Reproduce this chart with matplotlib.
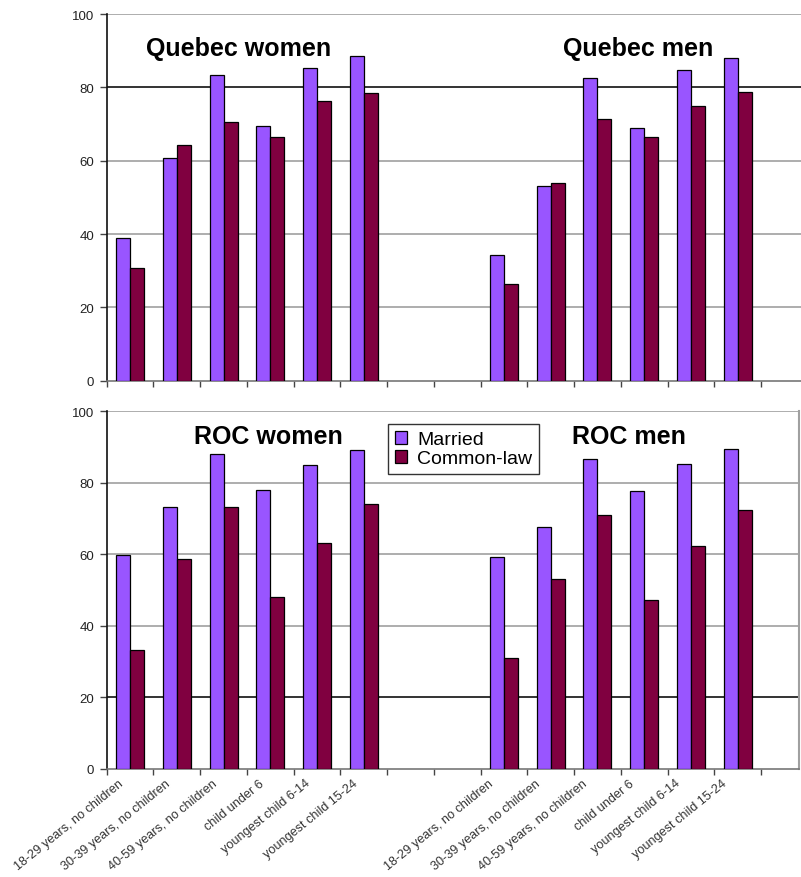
import matplotlib
matplotlib.use("Agg")
import matplotlib.pyplot as plt
import matplotlib.transforms as mtransforms
import numpy as np

plt.rcParams['font.family'] = ['Liberation Sans', 'DejaVu Sans']

categories = ["18-29 years, no children", "30-39 years, no children",
              "40-59 years, no children", "child under 6",
              "youngest child 6-14", "youngest child 15-24"]

qc_women_married = [39.0, 60.6, 83.4, 69.5, 85.2, 88.5]
qc_women_common = [30.8, 64.3, 70.5, 66.4, 76.4, 78.5]
qc_men_married = [34.4, 53.2, 82.6, 68.8, 84.8, 88.0]
qc_men_common = [26.4, 53.9, 71.4, 66.4, 75.0, 78.8]

roc_women_married = [59.8, 73.2, 88.1, 77.9, 84.9, 89.2]
roc_women_common = [33.2, 58.8, 73.2, 48.2, 63.1, 74.1]
roc_men_married = [59.4, 67.7, 86.7, 77.6, 85.3, 89.6]
roc_men_common = [30.9, 53.1, 71.0, 47.3, 62.3, 72.5]

yticks = [0, 20, 40, 60, 80, 100]
married_color = "#9955FF"
common_color = "#800040"

W, H = 801, 878
fig = plt.figure(figsize=(W / 100, H / 100), dpi=100)

def px_axes(left, top, right, bottom):
    return fig.add_axes([left / W, 1 - bottom / H, (right - left) / W, (bottom - top) / H])

ax_top = px_axes(106.7, 15.0, 801, 381.7)
ax_bot = px_axes(106.7, 412.3, 798.5, 770.0)

n_blank = 2
women_x = np.arange(6)
men_x = np.arange(6) + 6 + n_blank
all_x = np.concatenate([women_x, men_x])
labels = categories + categories
bw = 0.3
step = 46.74

def draw(ax, wm, wc, mm, mc, title_w, title_m, dark_grid, xmax):
    ax.set_axisbelow(True)
    married = list(wm) + list(mm)
    common = list(wc) + list(mc)
    ax.bar(all_x - bw / 2, married, width=bw, color=married_color,
           edgecolor="black", linewidth=0.9, label="Married", zorder=3)
    ax.bar(all_x + bw / 2, common, width=bw, color=common_color,
           edgecolor="black", linewidth=0.9, label="Common-law", zorder=3)
    ax.set_ylim(0, 100)
    ax.set_xlim(-0.5, xmax)
    ax.set_yticks(yticks)
    ax.set_yticklabels([str(v) for v in yticks], fontsize=9.5, color="#222222")
    for v in yticks[1:]:
        c = "#111111" if v == dark_grid else "#a0a0a0"
        ax.axhline(v, color=c, linewidth=1.2, zorder=1)
    ax.set_xticks(np.arange(-0.5, 14.0, 1.0), minor=True)
    ax.tick_params(axis="x", which="minor", length=4, width=1, color="#444444")
    ax.tick_params(axis="x", which="major", length=0)
    ax.tick_params(axis="y", length=5, width=1, color="#444444", pad=4)
    for s in ["top", "right"]:
        ax.spines[s].set_visible(False)
    ax.spines["left"].set_color("#111111")
    ax.spines["left"].set_linewidth(1.2)
    ax.spines["bottom"].set_color("#777777")
    ax.spines["bottom"].set_linewidth(1.2)
    ax.text(title_w[0], title_w[1], title_w[2], fontsize=18, fontweight="bold",
            ha="center", va="center", zorder=5)
    ax.text(title_m[0], title_m[1], title_m[2], fontsize=18, fontweight="bold",
            ha="center", va="center", zorder=5)

top_xmax = -0.5 + (801 - 106.7) / step
bot_xmax = -0.5 + (798.5 - 106.7) / step

draw(ax_top, qc_women_married, qc_women_common, qc_men_married, qc_men_common,
     (2.33, 90.7, "Quebec women"), (10.87, 90.7, "Quebec men"), 80, top_xmax)
ax_top.set_xticks(all_x)
ax_top.set_xticklabels([])

draw(ax_bot, roc_women_married, roc_women_common, roc_men_married, roc_men_common,
     (2.95, 93.0, "ROC women"), (10.67, 93.0, "ROC men"), 20, bot_xmax)
ax_bot.spines["right"].set_visible(True)
ax_bot.spines["right"].set_color("#a0a0a0")
ax_bot.spines["right"].set_linewidth(1.5)
ax_bot.set_xticks(all_x)
ax_bot.set_xticklabels(labels, rotation=39, ha="right", va="center",
                       rotation_mode="anchor", fontsize=9.1, color="#333333")
ax_bot.tick_params(axis="x", which="major", pad=9)
for i, lab in enumerate(ax_bot.get_xticklabels()):
    dx = -8 if i < 6 else -12
    offset = mtransforms.ScaledTranslation(dx / 100, 0, fig.dpi_scale_trans)
    lab.set_transform(lab.get_transform() + offset)

leg = ax_bot.legend(loc="upper left", bbox_to_anchor=((388 - 106.7) / (798.5 - 106.7), 1 - (425 - 412.3) / (770 - 412.3)),
                    fontsize=14, frameon=True, fancybox=False, edgecolor="black",
                    borderpad=0.35, labelspacing=0.08, handlelength=0.65, handleheight=0.65,
                    handletextpad=0.5, borderaxespad=0)
leg.get_frame().set_linewidth(1.0)
leg.set_zorder(6)

fig.savefig("out.png", dpi=100)
